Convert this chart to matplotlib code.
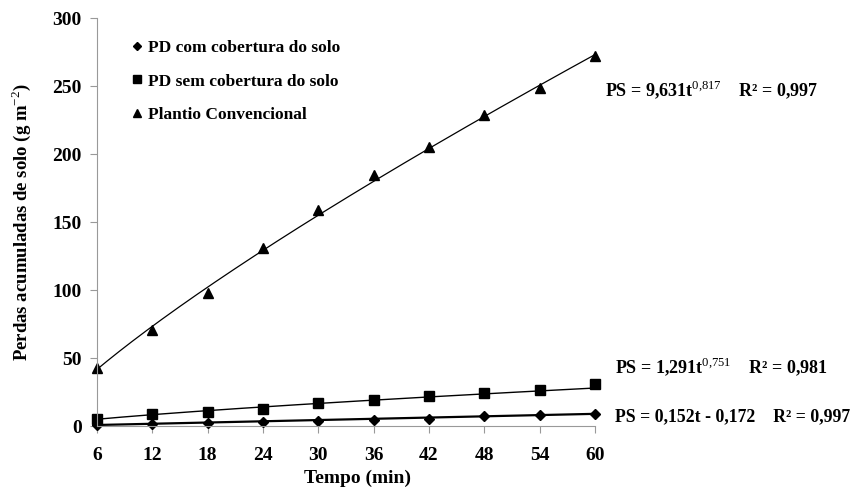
import numpy as np
import matplotlib
matplotlib.use('Agg')
import matplotlib.pyplot as plt

plt.rcParams['font.family'] = 'Liberation Serif'
plt.rcParams['font.weight'] = 'bold'
plt.rcParams['mathtext.fontset'] = 'custom'
plt.rcParams['mathtext.rm'] = 'Liberation Serif:weight=normal'
plt.rcParams['mathtext.bf'] = 'Liberation Serif:bold'

tempo = [6, 12, 18, 24, 30, 36, 42, 48, 54, 60]
pd_com = [1.0, 1.5, 2.0, 3.0, 3.5, 4.5, 5.5, 7.0, 8.0, 9.0]
pd_sem = [5.0, 9.0, 10.0, 12.5, 17.0, 19.0, 22.0, 24.0, 26.5, 31.0]
convencional = [42.5, 70.5, 97.5, 131.0, 159.0, 184.5, 205.0, 229.0, 248.5, 272.0]

# coeficientes das linhas de tendencia (do grafico)
a_conv, b_conv = 9.631, 0.817
a_sem, b_sem = 1.291, 0.751
a_com, b_com = 0.152, -0.172

fig = plt.figure(figsize=(8.53, 4.9), dpi=100)
ax = fig.add_axes([0.1137, 0.1306, 0.5838, 0.8324])

t = np.linspace(6, 60, 200)
ax.plot(t, a_conv * t ** b_conv, color='black', lw=0.9)
ax.plot(t, a_sem * t ** b_sem, color='black', lw=1.0)
ax.plot(t, a_com * t + b_com, color='black', lw=1.6)

ax.plot(tempo, pd_com, 'D', color='black', ms=5, clip_on=False, label='PD com cobertura do solo')
ax.plot(tempo, pd_sem, 's', color='black', ms=7, clip_on=False, label='PD sem cobertura do solo')
ax.plot(tempo, convencional, '^', color='black', ms=6.5, clip_on=False, label='Plantio Convencional')

ax.set_xlim(6, 60)
ax.set_ylim(0, 300)
ax.set_xticks(tempo)
ax.set_yticks(range(0, 301, 50))
for s in ['top', 'right']:
    ax.spines[s].set_visible(False)
for s in ['left', 'bottom']:
    ax.spines[s].set_color('#999999')
ax.tick_params(colors='#999999', labelcolor='black', length=5, labelsize=14, pad=6)
ax.tick_params(axis='x', pad=10)

ax.set_xlabel('Tempo (min)', fontsize=14, fontweight='bold')
ax.xaxis.set_label_coords(0.524, -0.108)
ax.set_ylabel('Perdas acumuladas de solo (g m$^{-2}$)', fontsize=13.5, fontweight='bold')
ax.yaxis.set_label_coords(-0.129, 0.5)

leg = ax.legend(loc='upper left', bbox_to_anchor=(0.04, 0.985), frameon=False, fontsize=12.5,
                handlelength=0.5, handletextpad=0.4, labelspacing=1.0, markerscale=0.8)

ax.text(1.02, 0.824, 'PS = 9,631t$^{0{,}817}$    R² = 0,997', transform=ax.transAxes,
        fontsize=13, va='center', ha='left')
ax.text(1.04, 0.145, 'PS = 1,291t$^{0{,}751}$    R² = 0,981', transform=ax.transAxes,
        fontsize=13, va='center', ha='left')
ax.text(1.04, 0.022, 'PS = 0,152t - 0,172    R² = 0,997', transform=ax.transAxes,
        fontsize=12.8, va='center', ha='left')

fig.savefig('out.png', dpi=100)
